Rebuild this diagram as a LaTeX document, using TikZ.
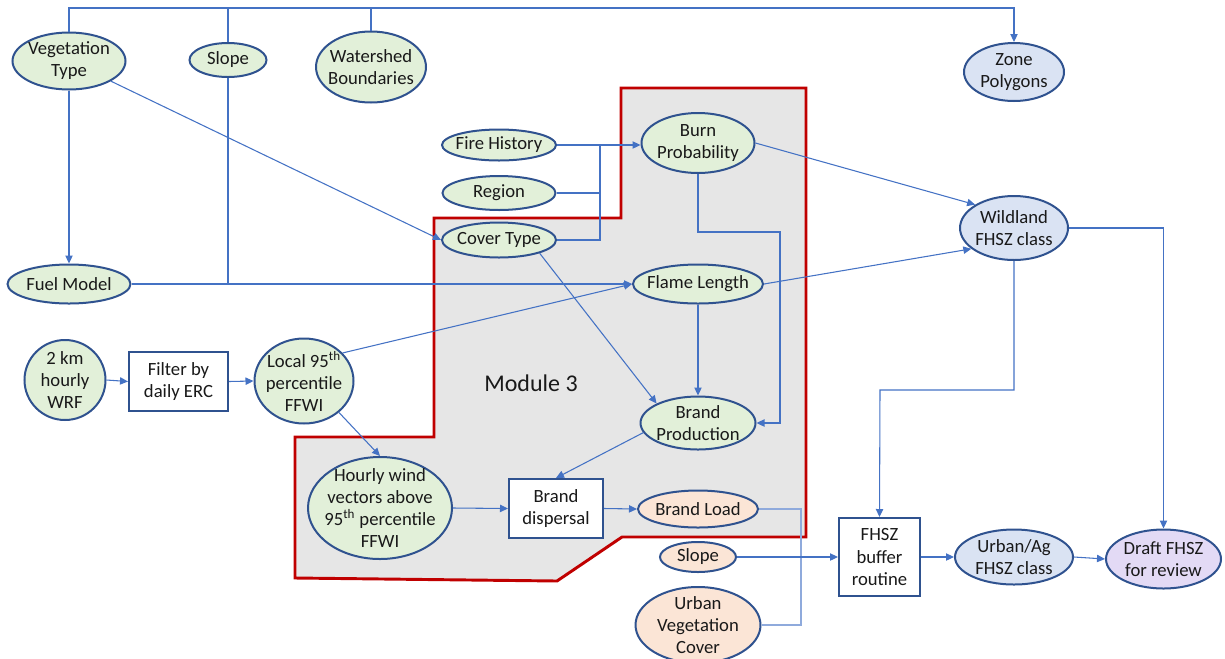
\documentclass[tikz,border=0pt]{standalone}
\usepackage{fontspec}
\setmainfont{Carlito}
\usetikzlibrary{arrows.meta,shapes.geometric}
\definecolor{gfill}{HTML}{E2F0D9}
\definecolor{bfill}{HTML}{DAE3F3}
\definecolor{pfill}{HTML}{FBE5D6}
\definecolor{vfill}{HTML}{E3DAF5}
\definecolor{mgray}{HTML}{E6E6E6}
\definecolor{nborder}{HTML}{2F528F}
\definecolor{conn}{HTML}{4472C4}
\definecolor{connlt}{HTML}{8FAADC}
\definecolor{mred}{HTML}{C00000}
\begin{document}
\begin{tikzpicture}[x=0.75pt,y=-0.75pt,
  every node/.style={font=\fontsize{14}{16.5}\selectfont, align=center, inner sep=0pt, text=black!90},
  sz/.style 2 args={minimum width=#1*0.75pt, minimum height=#2*0.75pt},
  ell/.style={ellipse, draw=nborder, line width=1.5pt, inner xsep=-14pt, inner ysep=-9pt},
  gel/.style={ell, fill=gfill},
  bel/.style={ell, fill=bfill},
  pel/.style={ell, fill=pfill},
  vel/.style={ell, fill=vfill},
  boxnode/.style={rectangle, draw=nborder, line width=1.5pt, fill=white},
  conline/.style={draw=conn, line width=0.8pt},
  arr/.style={conline, -{Triangle[length=6pt,width=5.5pt]}},
  ltline/.style={draw=connlt, line width=1.1pt}]
\useasboundingbox (0,0) rectangle (1225,658);
% Module 3 region
\draw[fill=mgray, draw=mred, line width=2.2pt, line join=miter]
  (621,88) -- (806,88) -- (806,537) -- (622,537) -- (557,581) -- (295,578)
  -- (295,437) -- (434,437) -- (434,218) -- (621,218) -- cycle;
\node[font=\fontsize{18}{20}\selectfont] (m3) at (531,383) {Module 3};
% nodes
\node[gel, sz={113}{57}] (vt) at (69,61) {Vegetation\\Type};
\node[gel, sz={77}{34}] (sl) at (228,60) {Slope};
\node[gel, sz={110}{71}] (ws) at (371,67) {Watershed\\Boundaries};
\node[bel, sz={100}{58}] (zp) at (1014,72) {Zone\\Polygons};
\node[gel, sz={114}{31}] (fh) at (499,145) {Fire History};
\node[gel, sz={113}{34}] (rg) at (499,193) {Region};
\node[gel, sz={114}{35}] (ct) at (499,240) {Cover Type};
\node[gel, sz={113}{60}] (bp) at (698,143) {Burn\\Probability};
\node[bel, sz={108}{64}] (wl) at (1014,228) {Wildland\\FHSZ class};
\node[gel, sz={123}{39}] (fm) at (69,284) {Fuel Model};
\node[gel, sz={130}{39}] (fl) at (698,284) {Flame Length};
\node[gel, sz={81}{80}] (wrf) at (65,380) {2 km\\hourly\\WRF};
\node[boxnode, sz={99}{59}] (flt) at (178.5,381.5) {Filter by\\daily ERC};
\node[gel, sz={99}{85}] (lp) at (304,381) {Local 95\textsuperscript{th}\\percentile\\FFWI};
\node[gel, sz={144}{102}] (hw) at (380,508) {Hourly wind\\vectors above\\95\textsuperscript{th} percentile\\FFWI};
\node[gel, sz={115}{53}] (bpr) at (698,423) {Brand\\Production};
\node[boxnode, sz={94}{59}] (bd) at (556,508.5) {Brand\\dispersal};
\node[pel, sz={120}{37}] (bl) at (698,509) {Brand Load};
\node[pel, sz={76}{30}] (sl2) at (698,557) {Slope};
\node[pel, sz={125}{76}] (uvc) at (698,625) {Urban\\Vegetation\\Cover};
\node[boxnode, sz={81}{78}] (fb) at (879.5,557) {FHSZ\\buffer\\routine};
\node[bel, sz={118}{55}] (ua) at (1014,557) {Urban/Ag\\FHSZ class};
\node[vel, sz={115}{59}] (df) at (1163.5,559) {Draft FHSZ\\for review};
% helper coordinates
\coordinate (topR) at (1014,8);
\coordinate (bx) at (600,146);
\coordinate (k1) at (780,232);
\coordinate (k2) at (880,390);
\coordinate (k3) at (801,509);
% connectors
\draw[arr] (vt.north) |- (topR) -- (zp.north);
\draw[conline] (sl.north) -- (sl.north |- topR);
\draw[conline] (ws.north) -- (ws.north |- topR);
\draw[arr] (vt.south) -- (fm.north);
\draw[arr] (vt) -- (ct.west);
\draw[conline] (sl.south) -- (sl.south |- fm.east);
\draw[arr] (fm.east) -- (fl.west);
\draw[arr] (fh.east) -- (bp.west |- fh.east);
\draw[conline] (rg.east) -| (bx);
\draw[conline] (ct.east) -| (bx);
\draw[arr] (ct.-18) -- (bpr.north west);
\draw[arr] (bp.south) |- (k1) |- (bpr.east);
\draw[arr] (bp.east) -- (wl.149);
\draw[arr] (fl.east) -- (wl.206);
\draw[arr] (fl.south) -- (bpr.north);
\draw[arr] (lp.36) -- (fl.west);
\draw[arr] (wrf.east) -- (flt.west);
\draw[arr] (flt.east) -- (lp.west);
\draw[arr] (lp.-42) -- (hw.north);
\draw[arr] (hw.east) -- (bd.west);
\draw[arr] (bpr.190) -- (bd.north);
\draw[arr] (bd.east) -- (bl.west);
\draw[ltline] (bl.east) -- (k3) |- (uvc.east);
\draw[arr] (sl2.east) -- (fb.west |- sl2.east);
\draw[arr] (wl.south) |- (k2) -- (fb.north);
\draw[arr] (wl.east) -| (df.north);
\draw[arr] (fb.east) -- (ua.west);
\draw[arr] (ua.east) -- (df.west);
\end{tikzpicture}
\end{document}
